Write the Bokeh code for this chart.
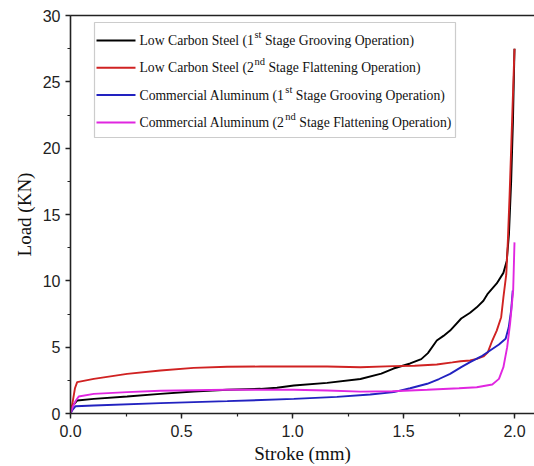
from bokeh.plotting import figure
from bokeh.models import (Range1d, LinearAxis, SingleIntervalTicker, FixedTicker,
                          PrintfTickFormatter, BoxAnnotation, Label, Arrow)
from bokeh.embed import file_html
from bokeh.resources import INLINE

# ---------------- data ----------------
lcs1_x = [0, 0.01, 0.03, 0.105, 0.255, 0.405, 0.555, 0.706, 0.856, 0.93, 1.006, 1.156,
          1.306, 1.40, 1.455, 1.53, 1.58, 1.61, 1.65, 1.68, 1.71, 1.76, 1.80, 1.83, 1.86,
          1.88, 1.92, 1.95, 1.965, 1.975, 1.985, 1.993, 2.0]
lcs1_y = [0, 0.6, 0.98, 1.1, 1.28, 1.48, 1.66, 1.79, 1.86, 1.94, 2.11, 2.31,
          2.6, 3.0, 3.39, 3.77, 4.1, 4.55, 5.5, 5.85, 6.25, 7.16, 7.6, 8.0, 8.5,
          9.04, 9.8, 10.6, 11.5, 13.5, 17.5, 22.0, 27.5]

lcs2_x = [0, 0.01, 0.02, 0.03, 0.105, 0.255, 0.405, 0.555, 0.706, 0.856, 1.006, 1.156,
          1.306, 1.455, 1.55, 1.65, 1.72, 1.757, 1.80, 1.83, 1.86, 1.88, 1.90, 1.92,
          1.94, 1.95, 1.963, 1.97, 1.978, 1.986, 1.994, 2.0]
lcs2_y = [0, 0.9, 1.9, 2.36, 2.61, 2.99, 3.24, 3.44, 3.52, 3.54, 3.54, 3.54,
          3.49, 3.57, 3.6, 3.69, 3.85, 3.94, 4.0, 4.12, 4.3, 4.62, 5.5, 6.25,
          7.26, 8.76, 10.5, 13.0, 16.5, 20.5, 24.5, 27.5]

al1_x = [0, 0.01, 0.023, 0.105, 0.405, 0.706, 1.006, 1.2, 1.35, 1.456, 1.53, 1.607,
         1.66, 1.71, 1.76, 1.80, 1.85, 1.89, 1.93, 1.96, 1.974, 1.985, 1.992]
al1_y = [0, 0.3, 0.55, 0.6, 0.78, 0.93, 1.1, 1.25, 1.43, 1.61, 1.9, 2.24,
         2.6, 2.99, 3.5, 3.87, 4.3, 4.75, 5.2, 5.63, 6.5, 7.8, 9.27]

al2_x = [0, 0.01, 0.025, 0.037, 0.105, 0.255, 0.405, 0.706, 1.006, 1.156, 1.306, 1.45,
         1.607, 1.75, 1.83, 1.90, 1.93, 1.95, 1.967, 1.98, 1.994, 2.0]
al2_y = [0, 0.5, 1.0, 1.28, 1.48, 1.61, 1.71, 1.79, 1.79, 1.73, 1.65, 1.68,
         1.79, 1.9, 1.98, 2.19, 2.61, 3.49, 5.0, 6.76, 9.27, 12.9]

series_x = [lcs1_x, lcs2_x, al1_x, al2_x]
series_y = [lcs1_y, lcs2_y, al1_y, al2_y]
colors = ["#000000", "#d02222", "#2222c0", "#e026e0"]
label_pre = ["Low Carbon Steel (1", "Low Carbon Steel (2",
             "Commercial Aluminum (1", "Commercial Aluminum (2"]
label_sup = ["st", "nd", "st", "nd"]
label_post = ["Stage Grooving Operation)", "Stage Flattening Operation)",
              "Stage Grooving Operation)", "Stage Flattening Operation)"]

x_label = "Stroke (mm)"
y_label = "Load (KN)"

# ---------------- figure ----------------
W, H = 534, 466
TOP, BOTTOM, LEFT = 15, 53, 70
FRAME_H = H - TOP - BOTTOM
FRAME_W = W - LEFT

p = figure(width=W, height=H, output_backend="svg", toolbar_location=None,
           x_range=Range1d(0, FRAME_W / 222.0), y_range=Range1d(0, 30),
           min_border_left=LEFT, min_border_right=0, min_border_top=TOP,
           min_border_bottom=BOTTOM, x_axis_label=x_label, y_axis_label=y_label)
p.grid.visible = False
p.outline_line_color = None
p.background_fill_color = "white"
p.border_fill_color = "white"

p.xaxis.ticker = SingleIntervalTicker(interval=0.5, num_minor_ticks=2)
p.yaxis.ticker = SingleIntervalTicker(interval=5, num_minor_ticks=2)
p.xaxis.formatter = PrintfTickFormatter(format="%.1f")

for ax in (p.xaxis, p.yaxis):
    ax.axis_line_color = "#222222"
    ax.axis_line_width = 1.6
    ax.major_tick_line_color = "#222222"
    ax.minor_tick_line_color = "#222222"
    ax.major_tick_line_width = 1.4
    ax.minor_tick_line_width = 1.2
    ax.major_tick_in = 0
    ax.major_tick_out = 5
    ax.minor_tick_in = 0
    ax.minor_tick_out = 3
    ax.major_label_text_font = "Liberation Sans"
    ax.major_label_text_font_size = "16px"
    ax.major_label_text_color = "#222222"
    ax.axis_label_text_font = "Liberation Serif"
    ax.axis_label_text_font_size = "19px"
    ax.axis_label_text_font_style = "normal"
    ax.axis_label_text_color = "#111111"

p.xaxis.major_label_standoff = 6
p.xaxis.axis_label_standoff = 3
p.yaxis.major_label_standoff = 5
p.yaxis.axis_label_standoff = 5

top_axis = LinearAxis(ticker=FixedTicker(ticks=[]), axis_line_color="#222222",
                      axis_line_width=1.6, major_tick_line_color=None,
                      minor_tick_line_color=None, major_label_text_font_size="0px")
p.add_layout(top_axis, "above")

for xs, ys, c in zip(series_x, series_y, colors):
    p.line(xs, ys, line_color=c, line_width=1.9)

# ---------------- legend (manual, to keep the superscripts) ----------------
TNR = {' ': 250, '(': 333, ')': 333, '1': 500, '2': 500, 'L': 611, 'o': 500, 'w': 722,
       'C': 667, 'a': 444, 'r': 333, 'b': 500, 'n': 500, 'S': 556, 't': 278, 'e': 444,
       'l': 278, 's': 389, 'd': 500, 'A': 722, 'm': 778, 'i': 278, 'u': 500, 'c': 444,
       'G': 722, 'g': 500, 'v': 500, 'O': 722, 'p': 500, 'F': 556}


def tw(s, size):
    return sum(TNR.get(ch, 500) for ch in s) / 1000.0 * size


FS, SFS = 13.7, 10.5
box = BoxAnnotation(left=24, right=385, top=FRAME_H - 7, bottom=FRAME_H - 122,
                    left_units="screen", right_units="screen", top_units="screen",
                    bottom_units="screen", fill_color="white", fill_alpha=1.0,
                    line_color="#555555", line_width=1.2)
p.add_layout(box)

for i in range(4):
    yr = FRAME_H - 25 - 27.3 * i
    p.add_layout(Arrow(x_start=26, y_start=yr, x_end=65, y_end=yr, start_units="screen",
                       end_units="screen", end=None, line_color=colors[i], line_width=2))
    x0 = 69
    p.add_layout(Label(x=x0, y=yr, x_units="screen", y_units="screen", text=label_pre[i],
                       text_font="Liberation Serif", text_font_size=f"{FS}px",
                       text_baseline="middle", text_color="#111111"))
    xs = x0 + tw(label_pre[i], FS) + 0.5
    p.add_layout(Label(x=xs, y=yr + 6, x_units="screen", y_units="screen", text=label_sup[i],
                       text_font="Liberation Serif", text_font_size=f"{SFS}px",
                       text_baseline="middle", text_color="#111111"))
    xp = xs + tw(label_sup[i], SFS) + tw(" ", FS)
    p.add_layout(Label(x=xp, y=yr, x_units="screen", y_units="screen", text=label_post[i],
                       text_font="Liberation Serif", text_font_size=f"{FS}px",
                       text_baseline="middle", text_color="#111111"))

open("out.html", "w").write(file_html(p, INLINE))
